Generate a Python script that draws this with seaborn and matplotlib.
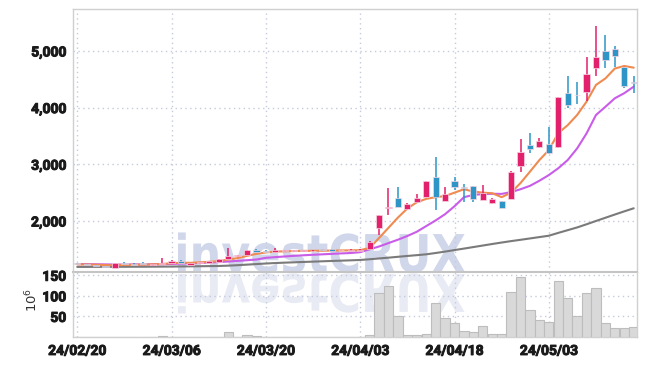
import numpy as np
import pandas as pd
import seaborn as sns
import matplotlib.pyplot as plt
import matplotlib.patheffects as pe
from matplotlib.textpath import TextPath
from matplotlib.patches import PathPatch
from matplotlib.font_manager import FontProperties
from matplotlib.transforms import Affine2D

# tick labels every 10 trading days
tick_labels = ["24/02/20", "24/03/06", "24/03/20", "24/04/03", "24/04/18", "24/05/03"]

# daily candles
open_ = [1255, 1240, 1225, 1205, 1178, 1262, 1245, 1240, 1215, 1240,
         1255, 1300, 1232, 1255, 1262, 1280, 1330, 1380, 1400, 1490,
         1470, 1460, 1470, 1465, 1470, 1462, 1495, 1500, 1480, 1478,
         1475, 1500, 1880, 2230, 2400, 2210, 2335, 2420, 2775, 2355,
         2700, 2590, 2615, 2370, 2312, 2350, 2390, 2970, 3340, 3305,
         3360, 3305, 4255, 4230, 4275, 4700, 5000, 5030, 4715, 4460]
high = [1262, 1245, 1230, 1210, 1262, 1285, 1255, 1275, 1245, 1350,
        1305, 1305, 1262, 1285, 1300, 1335, 1530, 1400, 1495, 1500,
        1480, 1525, 1485, 1480, 1485, 1480, 1505, 1510, 1495, 1500,
        1500, 1640, 2110, 2580, 2600, 2320, 2475, 2710, 3130, 2600,
        2775, 2650, 2620, 2635, 2410, 2360, 2880, 3446, 3550, 3460,
        3660, 4195, 4557, 4450, 4892, 5440, 5280, 5086, 4720, 4557]
low = [1240, 1215, 1195, 1175, 1170, 1240, 1225, 1220, 1205, 1235,
       1250, 1260, 1225, 1240, 1255, 1270, 1320, 1370, 1395, 1445,
       1445, 1455, 1460, 1455, 1455, 1450, 1478, 1470, 1470, 1470,
       1470, 1495, 1750, 2100, 2240, 2200, 2320, 2415, 2200, 2350,
       2545, 2335, 2340, 2365, 2300, 2225, 2380, 2865, 3200, 3290,
       3190, 3295, 3993, 4063, 4116, 4557, 4698, 4715, 4345, 4257]
close = [1245, 1222, 1200, 1180, 1255, 1245, 1230, 1235, 1240, 1255,
         1300, 1265, 1255, 1262, 1295, 1330, 1390, 1385, 1490, 1450,
         1452, 1490, 1472, 1468, 1475, 1475, 1485, 1478, 1482, 1492,
         1490, 1635, 2105, 2250, 2250, 2300, 2405, 2705, 2420, 2475,
         2600, 2575, 2390, 2495, 2393, 2230, 2865, 3220, 3270, 3410,
         3200, 4190, 4045, 4215, 4590, 4890, 4840, 4910, 4380, 4440]

# volume (millions)
volume = [0.6, 0.5, 0.5, 0.4, 0.6, 0.5, 0.4, 0.5, 0.5, 2,
          0.6, 0.5, 0.5, 0.4, 0.5, 0.8, 13, 0.8, 4, 2,
          0.8, 0.7, 0.6, 0.5, 0.5, 0.6, 0.6, 0.5, 0.5, 0.6,
          0.7, 6, 106, 125, 51, 4, 6, 8, 83, 45,
          33, 15, 11, 27, 8, 8, 110, 145, 66, 41,
          36, 135, 95, 51, 106, 120, 33, 21, 21, 24]

# moving average lines
ma_short = [1235, 1232, 1228, 1222, 1218, 1225, 1228, 1230, 1235, 1240,
            1255, 1262, 1262, 1270, 1280, 1290, 1320, 1345, 1385, 1420,
            1445, 1460, 1465, 1470, 1472, 1474, 1476, 1478, 1480, 1482,
            1485, 1525, 1700, 1880, 2060, 2220, 2330, 2390, 2420, 2440,
            2500, 2560, 2520, 2500, 2490, 2420, 2500, 2670, 2870, 3075,
            3250, 3550, 3690, 3870, 4105, 4400, 4515, 4690, 4735, 4705]
ma_mid = [1240, 1238, 1236, 1234, 1232, 1232, 1233, 1234, 1236, 1238,
          1242, 1248, 1254, 1260, 1267, 1275, 1285, 1296, 1308, 1320,
          1350, 1362, 1374, 1385, 1395, 1404, 1412, 1420, 1428, 1435,
          1450, 1500, 1550, 1610, 1670, 1735, 1810, 1910, 2010, 2120,
          2260, 2420, 2460, 2475, 2480, 2478, 2510, 2560, 2620, 2710,
          2810, 2930, 3075, 3280, 3545, 3870, 4015, 4165, 4255, 4370]
ma_long = [1190, 1190, 1191, 1191, 1192, 1192, 1193, 1193, 1194, 1195,
           1196, 1198, 1200, 1202, 1204, 1206, 1212, 1220, 1230, 1240,
           1250, 1258, 1265, 1271, 1277, 1283, 1289, 1295, 1300, 1306,
           1312, 1325, 1339, 1353, 1368, 1383, 1397, 1412, 1435, 1460,
           1487, 1513, 1540, 1567, 1594, 1620, 1645, 1668, 1692, 1716,
           1740, 1790, 1838, 1886, 1942, 2000, 2057, 2114, 2170, 2224]

df = pd.DataFrame({"open": open_, "high": high, "low": low, "close": close,
                   "volume": volume, "ma_short": ma_short, "ma_mid": ma_mid,
                   "ma_long": ma_long})
df["idx"] = np.arange(len(df))

UP = "#e3206b"
DOWN = "#2e95c6"
GRID = "#c5cadc"
SPINE = "#d0d0d0"

sns.set_theme(style="white")
plt.rcParams["font.family"] = ["Roboto", "DejaVu Sans"]

W, H = 647, 366
fig = plt.figure(figsize=(W / 100, H / 100), dpi=100, facecolor="white")


def box(l, t, r, b):
    return [l / W, 1 - b / H, (r - l) / W, (b - t) / H]


ax = fig.add_axes(box(73, 9, 637, 272))
axv = fig.add_axes(box(73, 272, 637, 337), sharex=ax)
ax.set_facecolor("none")
axv.set_facecolor("none")

# watermark with reflection
fp = FontProperties(family="DejaVu Sans", weight="bold")
tp = TextPath((0, 0), "investCRUX", size=1, prop=fp)
bb = tp.get_extents()
sx = (465 - 178) / bb.width
sy = 38 / 0.73
to_fig = Affine2D().scale(1 / W, 1 / H) + fig.transFigure
wm = PathPatch(tp, transform=Affine2D().translate(-bb.x0, 0).scale(sx, sy).translate(178, H - 272) + to_fig,
               color="#d1d7ea", lw=0, zorder=-1)
wm_r = PathPatch(tp, transform=Affine2D().translate(-bb.x0, 0).scale(sx, -sy).translate(178, H - 274) + to_fig,
                 color="#e9ebf4", lw=0, zorder=-1)
fig.add_artist(wm)
fig.add_artist(wm_r)

# moving averages (under the candles)
sns.lineplot(data=df, x="idx", y="ma_long", ax=ax, color="#7a7a7a", lw=1.5, zorder=3)
sns.lineplot(data=df, x="idx", y="ma_mid", ax=ax, color="#c95ce8", lw=1.5, zorder=3)
sns.lineplot(data=df, x="idx", y="ma_short", ax=ax, color="#ef8a50", lw=1.5, zorder=3)

# candles
up = df["close"] >= df["open"]
colors = np.where(up, UP, DOWN)
body_lo = df[["open", "close"]].min(axis=1)
body_h = (df["close"] - df["open"]).abs().clip(lower=16)
ax.vlines(df["idx"], df["low"], df["high"], colors=colors, lw=1.1, zorder=5)
ax.bar(df["idx"], body_h, bottom=body_lo, width=0.66, color=colors,
       edgecolor="#f6d6e2", linewidth=0.5, zorder=6)

# volume
axv.bar(df["idx"], df["volume"], width=0.98, color="#d9d9d9",
        edgecolor="#bdbdbd", linewidth=0.8, zorder=3)

ax.set_xlim(-0.45, 59.35)
ax.set_ylim(1100, 5740)
axv.set_ylim(0, 158)

ax.set_yticks([2000, 3000, 4000, 5000])
ax.set_yticklabels([f"{v:,}" for v in [2000, 3000, 4000, 5000]])
axv.set_yticks([50, 100, 150])
axv.set_xticks(range(0, 60, 10))
axv.set_xticklabels(tick_labels)
ax.tick_params(labelbottom=False)

for a in (ax, axv):
    a.set_xlabel("")
    a.set_ylabel("")
    a.grid(True, linestyle=(0, (1, 2.5)), color=GRID, lw=1.0)
    a.set_axisbelow(True)
    a.tick_params(length=0, pad=5, labelsize=10, colors="#1a1a1a")
    for s in a.spines.values():
        s.set_color(SPINE)
        s.set_linewidth(1.0)
ax.spines["bottom"].set_color("#c4c4c4")
ax.spines["bottom"].set_linewidth(1.5)
axv.spines["top"].set_visible(False)
bold_fx = [pe.withStroke(linewidth=0.7, foreground="#1a1a1a")]
for lab in ax.get_yticklabels() + axv.get_yticklabels() + axv.get_xticklabels():
    lab.set_fontweight("bold")
    lab.set_path_effects(bold_fx)

fig.text(32 / W, 1 - 300 / H, r"$10^6$", rotation=90, ha="center", va="center",
         fontsize=9.5, color="#333333")

fig.savefig("out.png", dpi=100, facecolor="white")
